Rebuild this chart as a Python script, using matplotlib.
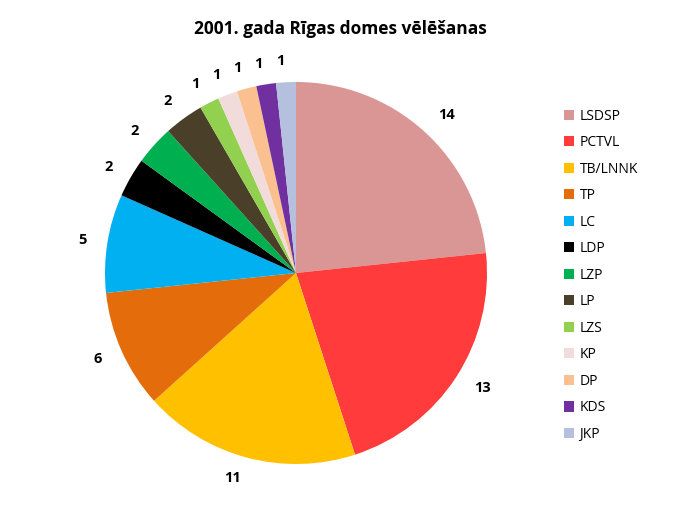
import matplotlib.pyplot as plt

# 2001. gada Rīgas domes vēlēšanas - mandāti
parties = ['LSDSP', 'PCTVL', 'TB/LNNK', 'TP', 'LC', 'LDP', 'LZP', 'LP',
           'LZS', 'KP', 'DP', 'KDS', 'JKP']
seats = [14, 13, 11, 6, 5, 2, 2, 2, 1, 1, 1, 1, 1]
colors = ['#D99694', '#FF3B3B', '#FFC000', '#E46C0A', '#00B0F0', '#000000',
          '#00B050', '#4A3F28', '#92D050', '#F2DCDB', '#FAC090', '#7030A0',
          '#B4C0DD']

plt.rcParams['font.family'] = ['Open Sans', 'DejaVu Sans']

fig = plt.figure(figsize=(6.83, 5.12), dpi=100)
cx, cy, r = 296, 273, 191
ax = fig.add_axes([(cx - r) / 683, (512 - cy - r) / 512, 2 * r / 683, 2 * r / 512])

wedges, texts = ax.pie(seats, colors=colors, startangle=90, counterclock=False,
                       labels=[str(s) for s in seats], labeldistance=1.11,
                       radius=1, textprops={'fontsize': 10.5, 'fontweight': 'bold'})
ax.set_xlim(-1, 1)
ax.set_ylim(-1, 1)
ax.set_aspect('equal')
ax.axis('off')

fig.text(340 / 683, 1 - 29 / 512, '2001. gada Rīgas domes vēlēšanas',
         ha='center', va='center', fontsize=12.5, fontweight='bold')

fig.legend(wedges, parties, loc='upper left', bbox_to_anchor=(551 / 683, 1 - 96 / 512),
           frameon=False, fontsize=10, handlelength=0.75, handleheight=0.75,
           handletextpad=0.4, labelspacing=0.83)

fig.savefig('out.png', dpi=100)
